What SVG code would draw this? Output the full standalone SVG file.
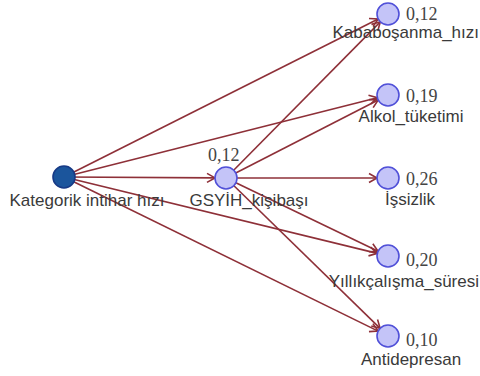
<svg xmlns="http://www.w3.org/2000/svg" width="480" height="376" viewBox="0 0 480 376">
<style>
.e{stroke:#8e3038;stroke-width:1.6;fill:none}
.n{fill:#c4c4f8;stroke:#5050d8;stroke-width:1.6}
.s{fill:#1b559c;stroke:#173a86;stroke-width:1.6}
.l{font-family:"Liberation Sans",Arial,sans-serif;font-size:17px;fill:#3a3a3a;text-anchor:middle}
.r{text-anchor:end}
.v{font-family:"Liberation Serif","Times New Roman",serif;font-size:18px;fill:#444}
</style>
<defs>
<marker id="ah" markerUnits="userSpaceOnUse" markerWidth="12" markerHeight="12" refX="10" refY="6" orient="auto">
<path d="M2,1.5 L10,6 L2,10.5" fill="none" stroke="#8e3038" stroke-width="1.6"/>
</marker>
</defs>
<rect width="480" height="376" fill="#ffffff"/>
<g id="connectors">
<line class="e" x1="64" y1="177" x2="215" y2="177.9" marker-end="url(#ah)"/>
<line class="e" x1="64" y1="177" x2="378.17" y2="18.94" marker-end="url(#ah)"/>
<line class="e" x1="64" y1="177" x2="377.34" y2="97.70" marker-end="url(#ah)"/>
<line class="e" x1="64" y1="177" x2="377.31" y2="253.39" marker-end="url(#ah)"/>
<line class="e" x1="64" y1="177" x2="378.13" y2="331.15" marker-end="url(#ah)"/>
<line class="e" x1="226" y1="178" x2="380.27" y2="21.83" marker-end="url(#ah)"/>
<line class="e" x1="226" y1="178" x2="378.21" y2="100.02" marker-end="url(#ah)"/>
<line class="e" x1="226" y1="178" x2="377" y2="178" marker-end="url(#ah)"/>
<line class="e" x1="226" y1="178" x2="378.09" y2="251.23" marker-end="url(#ah)"/>
<line class="e" x1="226" y1="178" x2="380.13" y2="328.32" marker-end="url(#ah)"/>
</g>
<g id="kategorik">
<circle class="s" cx="64" cy="177" r="11"/>
<text class="l" x="87" y="206">Kategorik intihar hızı</text>
</g>
<g id="gsyih">
<circle class="n" cx="226" cy="178" r="11"/>
<text class="v" x="208" y="161">0,12</text>
<text class="l" x="249" y="206">GSYİH_kişibaşı</text>
</g>
<g id="kabadosanma">
<circle class="n" cx="388" cy="14" r="11"/>
<text class="v" x="406" y="20">0,12</text>
<text class="l r" x="479" y="38">Kababoşanma_hızı</text>
</g>
<g id="alkol">
<circle class="n" cx="388" cy="95" r="11"/>
<text class="v" x="406" y="102">0,19</text>
<text class="l" x="411" y="122">Alkol_tüketimi</text>
</g>
<g id="issizlik">
<circle class="n" cx="388" cy="178" r="11"/>
<text class="v" x="406" y="185">0,26</text>
<text class="l" x="410" y="205">İşsizlik</text>
</g>
<g id="yillik">
<circle class="n" cx="388" cy="256" r="11"/>
<text class="v" x="406" y="266">0,20</text>
<text class="l r" x="479" y="287">Yıllıkçalışma_süresi</text>
</g>
<g id="antidepresan">
<circle class="n" cx="388" cy="336" r="11"/>
<text class="v" x="406" y="346">0,10</text>
<text class="l" x="411" y="365">Antidepresan</text>
</g>
</svg>
